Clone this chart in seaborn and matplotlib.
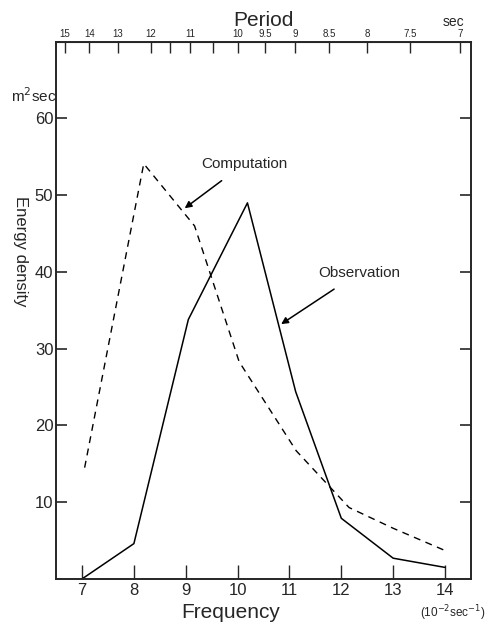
import pandas as pd
import matplotlib.pyplot as plt
import seaborn as sns

# values (frequency in 10^-2 sec^-1, energy density m^2 sec)
obs_freq = [7.0, 8.0, 9.05, 10.19, 11.12, 12.0, 13.0, 14.0]
obs_energy = [0.0, 4.6, 33.8, 49.0, 24.4, 7.9, 2.7, 1.5]

comp_freq = [7.05, 8.19, 9.17, 10.03, 11.13, 12.15, 13.0, 14.0]
comp_energy = [14.5, 54.1, 46.0, 28.3, 16.7, 9.3, 6.6, 3.7]

freq_ticks = [7, 8, 9, 10, 11, 12, 13, 14]
energy_ticks = [10, 20, 30, 40, 50, 60]
period_ticks = [15, 14, 13, 12, 11, 10, 9.5, 9, 8.5, 8, 7.5, 7]
period_minor = [11.5, 10.5]
period_labels = ["15", "14", "13", "12", "11", "10", "9.5", "9", "8.5", "8", "7.5", "7"]

df_obs = pd.DataFrame({"Frequency": obs_freq, "Energy": obs_energy})
df_comp = pd.DataFrame({"Frequency": comp_freq, "Energy": comp_energy})

sns.set_style("ticks", {"xtick.direction": "in", "ytick.direction": "in"})
plt.rcParams["font.family"] = ["Liberation Sans", "DejaVu Sans"]

fig = plt.figure(figsize=(4.88, 6.32), dpi=100)
ax = fig.add_axes([0.115, 0.084, 0.85, 0.85])

sns.lineplot(data=df_obs, x="Frequency", y="Energy", ax=ax, color="black",
             linewidth=1.1, sort=False)
sns.lineplot(data=df_comp, x="Frequency", y="Energy", ax=ax, color="black",
             linewidth=1.0, linestyle=(0, (5, 4)), sort=False)

ax.set_xlim(6.5, 14.5)
ax.set_ylim(0, 70)
for s in ax.spines.values():
    s.set_linewidth(1.4)
    s.set_visible(True)

ax.set_xticks(freq_ticks)
ax.set_xticklabels([str(t) for t in freq_ticks], fontsize=12)
ax.tick_params(axis="x", length=10, width=1.0, pad=3)
ax.set_yticks(energy_ticks)
ax.set_yticklabels([str(t) for t in energy_ticks], fontsize=12)
ax.tick_params(axis="y", length=8, width=1.2, pad=2, right=True)

ax.set_xlabel("Frequency", fontsize=15)
ax.xaxis.set_label_coords(0.42, -0.045)
ax.set_ylabel("Energy density", fontsize=12, rotation=270, va="center")
ax.yaxis.set_label_coords(-0.085, 0.61)

# period axis on top
top = ax.secondary_xaxis("top", functions=(lambda x: 100.0 / x, lambda x: 100.0 / x))
top.set_xticks(period_ticks)
top.set_xticklabels(period_labels, fontsize=7)
top.set_xticks(period_minor, minor=True)
top.tick_params(axis="x", which="both", direction="in", length=8, width=1.0, pad=2)
top.set_xlabel("Period", fontsize=15, labelpad=2)

# units
ax.text(0.0, 0.90, r"m$^2$sec", transform=ax.transAxes, ha="right", va="center",
        fontsize=11)
ax.text(0.985, 1.024, "sec", transform=ax.transAxes, ha="right", va="bottom", fontsize=10)
fig.text(0.995, 0.030, r"(10$^{-2}$sec$^{-1}$)", ha="right", va="center", fontsize=8.5)

# annotations
ax.annotate("Computation", xy=(8.98, 48.3), xytext=(10.13, 54.1), fontsize=11,
            ha="center", va="center",
            arrowprops=dict(arrowstyle="-|>", color="black", lw=1.1,
                            shrinkA=8, shrinkB=0, mutation_scale=10))
ax.annotate("Observation", xy=(10.84, 33.2), xytext=(12.34, 39.9), fontsize=11,
            ha="center", va="center",
            arrowprops=dict(arrowstyle="-|>", color="black", lw=1.1,
                            shrinkA=8, shrinkB=0, mutation_scale=10))

plt.savefig("out.png", dpi=100)
